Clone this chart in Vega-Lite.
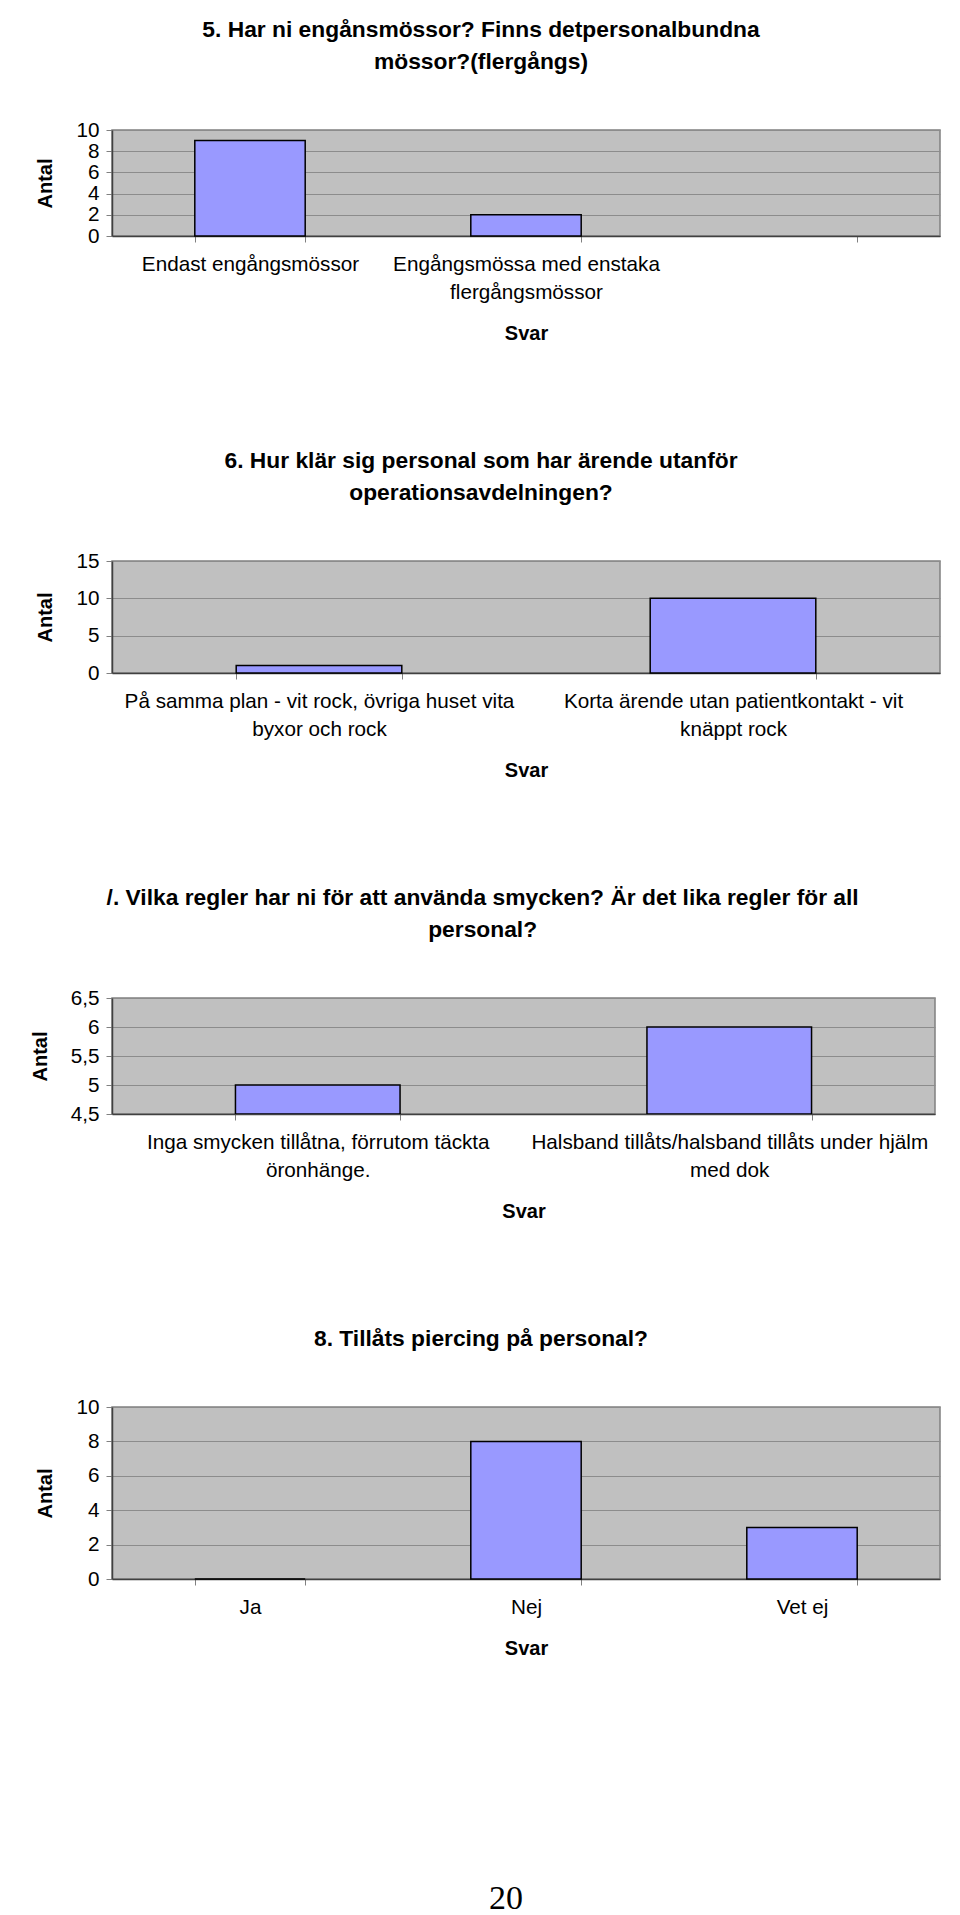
{
  "$schema": "https://vega.github.io/schema/vega-lite/v6.json",
  "padding": {"left": 29, "top": 18, "right": 22, "bottom": 0},
  "background": "#ffffff",
  "columns": 1,
  "align": "none",
  "spacing": 104,
  "config": {
    "font": "Liberation Sans",
    "view": {"fill": "#C0C0C0", "stroke": "#808080", "strokeWidth": 1.5},
    "axis": {
      "labelFont": "Liberation Sans", "labelFontSize": 20.7, "labelColor": "#000000",
      "titleFont": "Liberation Sans", "titleFontSize": 20, "titleFontWeight": "bold", "titleColor": "#000000",
      "domainColor": "#404040", "domainWidth": 1.5, "tickColor": "#808080", "tickSize": 6, "tickWidth": 1,
      "gridColor": "#8c8c8c", "gridWidth": 1, "labelLimit": 0, "labelOverlap": false
    },
    "axisX": {"labelPadding": 12, "labelLineHeight": 28, "titlePadding": 22, "tickBand": "extent", "labelAngle": 0},
    "axisY": {"labelPadding": 7, "titlePadding": 20},
    "title": {"font": "Liberation Sans", "fontSize": 22.8, "fontWeight": "bold", "color": "#000000", "anchor": "middle", "frame": "bounds", "lineHeight": 32, "offset": 45},
    "bar": {"color": "#9999FF", "stroke": "#000000", "strokeWidth": 1.5}
  },
  "concat": [
    {
      "title": {"text": ["5. Har ni engånsmössor? Finns detpersonalbundna", "mössor?(flergångs)"], "dx": -7},
      "width": 828, "height": 106,
      "data": {"values": [
        {"svar": "Endast engångsmössor", "antal": 9},
        {"svar": "Engångsmössa med enstaka flergångsmössor", "antal": 2}
      ]},
      "mark": {"type": "bar"},
      "encoding": {
        "x": {"field": "svar", "type": "nominal", "title": "Svar",
          "scale": {"domain": ["Endast engångsmössor", "Engångsmössa med enstaka flergångsmössor", " "], "paddingInner": 0.6, "paddingOuter": 0.3},
          "axis": {"labelExpr": "datum.value == 'Engångsmössa med enstaka flergångsmössor' ? ['Engångsmössa med enstaka', 'flergångsmössor'] : datum.value == 'Endast engångsmössor' ? 'Endast engångsmössor' : ''"}},
        "y": {"field": "antal", "type": "quantitative", "title": "Antal",
          "scale": {"domain": [0, 10]}, "axis": {"values": [0, 2, 4, 6, 8, 10]}}
      }
    },
    {
      "title": {"text": ["6. Hur klär sig personal som har ärende utanför", "operationsavdelningen?"], "dx": -7},
      "width": 828, "height": 112,
      "data": {"values": [
        {"svar": "På samma plan - vit rock, övriga huset vita byxor och rock", "antal": 1},
        {"svar": "Korta ärende utan patientkontakt - vit knäppt rock", "antal": 10}
      ]},
      "mark": {"type": "bar"},
      "encoding": {
        "x": {"field": "svar", "type": "nominal", "title": "Svar", "sort": null,
          "scale": {"paddingInner": 0.6, "paddingOuter": 0.3},
          "axis": {"labelExpr": "datum.value == 'På samma plan - vit rock, övriga huset vita byxor och rock' ? ['På samma plan - vit rock, övriga huset vita', 'byxor och rock'] : datum.value == 'Korta ärende utan patientkontakt - vit knäppt rock' ? ['Korta ärende utan patientkontakt - vit', 'knäppt rock'] : ''"}},
        "y": {"field": "antal", "type": "quantitative", "title": "Antal",
          "scale": {"domain": [0, 15]}, "axis": {"values": [0, 5, 10, 15]}}
      }
    },
    {
      "title": {"text": ["/. Vilka regler har ni för att använda smycken? Är det lika regler för all", "personal?"]},
      "width": 823, "height": 116,
      "data": {"values": [
        {"svar": "Inga smycken tillåtna, förrutom täckta öronhänge.", "antal": 5},
        {"svar": "Halsband tillåts/halsband tillåts under hjälm med dok", "antal": 6}
      ]},
      "mark": {"type": "bar", "clip": true},
      "encoding": {
        "x": {"field": "svar", "type": "nominal", "title": "Svar", "sort": null,
          "scale": {"paddingInner": 0.6, "paddingOuter": 0.3},
          "axis": {"labelExpr": "datum.value == 'Inga smycken tillåtna, förrutom täckta öronhänge.' ? ['Inga smycken tillåtna, förrutom täckta', 'öronhänge.'] : datum.value == 'Halsband tillåts/halsband tillåts under hjälm med dok' ? ['Halsband tillåts/halsband tillåts under hjälm', 'med dok'] : ''"}},
        "y": {"field": "antal", "type": "quantitative", "title": "Antal",
          "scale": {"domain": [4.5, 6.5], "zero": false},
          "axis": {"values": [4.5, 5, 5.5, 6, 6.5], "labelExpr": "replace(format(datum.value, '.1~f'), '.', ',')"}},
        "y2": {"datum": 4.5}
      }
    },
    {
      "title": {"text": "8. Tillåts piercing på personal?", "dx": -7},
      "width": 828, "height": 172,
      "data": {"values": [
        {"svar": "Ja", "antal": 0},
        {"svar": "Nej", "antal": 8},
        {"svar": "Vet ej", "antal": 3}
      ]},
      "mark": {"type": "bar"},
      "encoding": {
        "x": {"field": "svar", "type": "nominal", "title": "Svar", "sort": null,
          "scale": {"paddingInner": 0.6, "paddingOuter": 0.3}},
        "y": {"field": "antal", "type": "quantitative", "title": "Antal",
          "scale": {"domain": [0, 10]}, "axis": {"values": [0, 2, 4, 6, 8, 10]}}
      }
    },
    {
      "width": 828, "height": 270,
      "view": {"fill": null, "stroke": null},
      "data": {"values": [{"sida": "20"}]},
      "mark": {"type": "text", "font": "Liberation Serif", "fontSize": 34, "color": "#000000", "dx": -20, "baseline": "middle", "align": "center"},
      "encoding": {"text": {"field": "sida", "type": "nominal"}}
    }
  ]
}
